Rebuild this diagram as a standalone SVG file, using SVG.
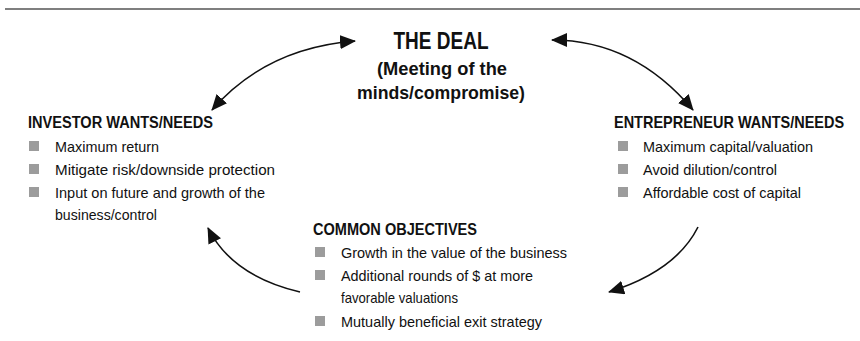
<svg xmlns="http://www.w3.org/2000/svg" width="860" height="341" viewBox="0 0 860 341">
<style>
text{font-family:"Liberation Sans",Arial,sans-serif;fill:#111}
.h{font-weight:bold;font-size:16px}
.t{font-weight:bold;text-anchor:middle}
.b{font-size:15px}
.sq{fill:#9c9c9c}
.c{fill:none;stroke:#111;stroke-width:1.6}
</style>
<defs>
<marker id="ah" viewBox="0 0 16 14" refX="15" refY="7" markerWidth="16" markerHeight="14" markerUnits="userSpaceOnUse" orient="auto-start-reverse">
<path d="M0,0 L16,7 L0,14 z" fill="#111"/>
</marker>
</defs>
<rect width="860" height="341" fill="#fff"/>
<line x1="5" y1="9" x2="860" y2="9" stroke="#555" stroke-width="1.5"/>
<g id="deal">
<text class="t" x="441" y="49" font-size="23" textLength="95" lengthAdjust="spacingAndGlyphs">THE DEAL</text>
<text class="t" x="442" y="75" font-size="19" textLength="130" lengthAdjust="spacingAndGlyphs">(Meeting of the</text>
<text class="t" x="441" y="99" font-size="19" textLength="168" lengthAdjust="spacingAndGlyphs">minds/compromise)</text>
</g>
<g id="investor">
<text class="h" x="28" y="128" textLength="185" lengthAdjust="spacingAndGlyphs">INVESTOR WANTS/NEEDS</text>
<rect class="sq" x="29" y="141" width="10" height="10"/>
<text class="b" x="55" y="152" textLength="104" lengthAdjust="spacingAndGlyphs">Maximum return</text>
<rect class="sq" x="29" y="164" width="10" height="10"/>
<text class="b" x="55" y="175" textLength="220" lengthAdjust="spacingAndGlyphs">Mitigate risk/downside protection</text>
<rect class="sq" x="29" y="187" width="10" height="10"/>
<text class="b" x="55" y="198" textLength="210" lengthAdjust="spacingAndGlyphs">Input on future and growth of the</text>
<text class="b" x="55" y="220" textLength="102" lengthAdjust="spacingAndGlyphs">business/control</text>
</g>
<g id="entrepreneur">
<text class="h" transform="translate(614,128) scale(0.906,1)" x="0" y="0">ENTREPRENEUR WANTS/NEEDS</text>
<rect class="sq" x="618" y="141" width="10" height="10"/>
<text class="b" x="643" y="152" textLength="170" lengthAdjust="spacingAndGlyphs">Maximum capital/valuation</text>
<rect class="sq" x="618" y="164" width="10" height="10"/>
<text class="b" x="643" y="175" textLength="134" lengthAdjust="spacingAndGlyphs">Avoid dilution/control</text>
<rect class="sq" x="618" y="187" width="10" height="10"/>
<text class="b" x="643" y="198" textLength="158" lengthAdjust="spacingAndGlyphs">Affordable cost of capital</text>
</g>
<g id="common">
<text class="h" x="313" y="235" textLength="164" lengthAdjust="spacingAndGlyphs">COMMON OBJECTIVES</text>
<rect class="sq" x="315" y="247" width="10" height="10"/>
<text class="b" x="341" y="258" textLength="226" lengthAdjust="spacingAndGlyphs">Growth in the value of the business</text>
<rect class="sq" x="315" y="270" width="10" height="10"/>
<text class="b" x="341" y="281" textLength="192" lengthAdjust="spacingAndGlyphs">Additional rounds of $ at more</text>
<text class="b" x="341" y="303" textLength="117" lengthAdjust="spacingAndGlyphs">favorable valuations</text>
<rect class="sq" x="315" y="316" width="10" height="10"/>
<text class="b" x="341" y="327" textLength="201" lengthAdjust="spacingAndGlyphs">Mutually beneficial exit strategy</text>
</g>
<g id="connectors">
<path class="c" d="M212,110 Q266,48 355,41" marker-start="url(#ah)" marker-end="url(#ah)"/>
<path class="c" d="M552,40 Q634,40 693,110" marker-start="url(#ah)" marker-end="url(#ah)"/>
<path class="c" d="M300,292 Q232,276 208,228" marker-end="url(#ah)"/>
<path class="c" d="M698,227 Q676,271 609,292" marker-end="url(#ah)"/>
</g>
</svg>
